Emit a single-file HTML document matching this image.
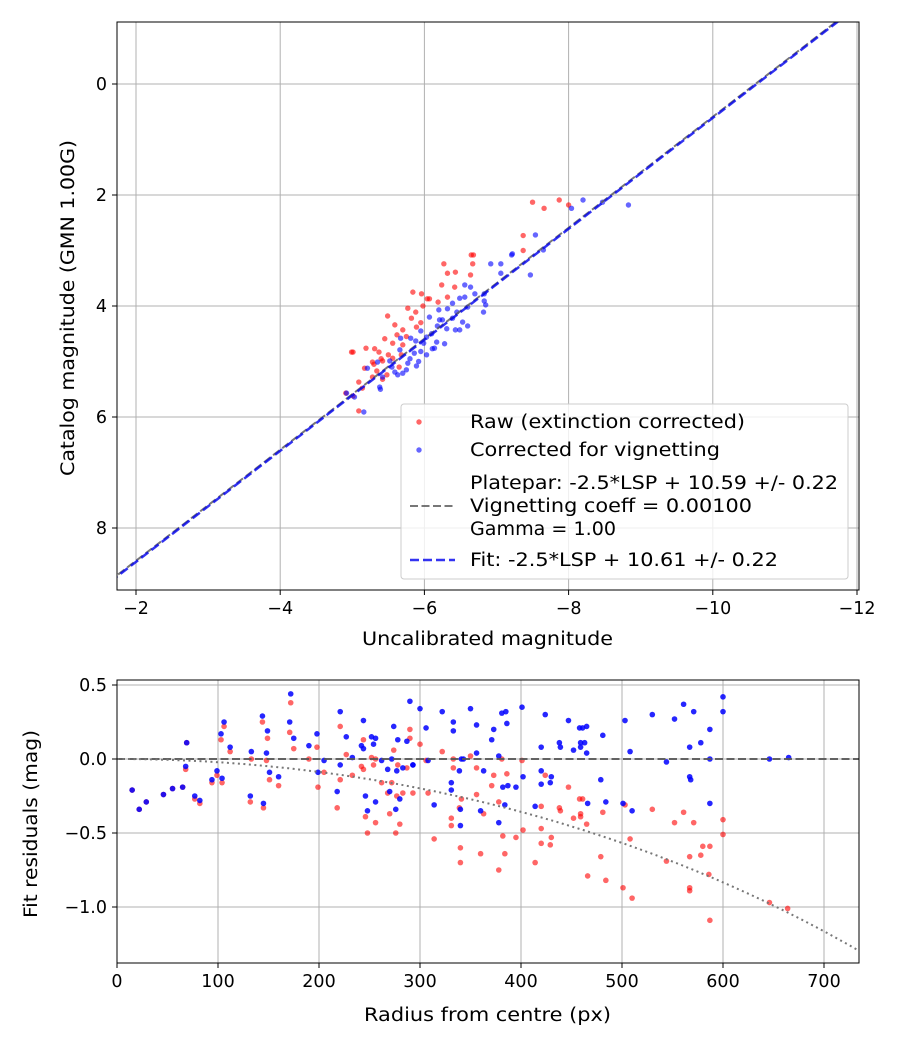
<!DOCTYPE html>
<html><head><meta charset="utf-8"><style>
body{margin:0;background:#fff}
svg text{font-family:"DejaVu Sans","Liberation Sans",sans-serif;fill:#000}
</style></head><body>
<svg id="fig" width="900" height="1050" xmlns="http://www.w3.org/2000/svg">
<rect width="900" height="1050" fill="#fff"/>
<g id="top"></g>
<g id="bot"></g>
</svg>
<script>
// ---- Top chart data ----
const topXTicks=[-2,-4,-6,-8,-10,-12];
const topYTicks=[0,2,4,6,8];
const rawX=[-7.50,-7.66,-7.87,-8.00,-7.37,-7.37,-6.65,-6.68,-6.67,-6.27,-6.32,-6.43,-6.64,-6.24,-6.42,-5.84,-5.96,-6.07,-6.32,-5.77,-5.88,-5.82,-5.49,-5.59,-5.70,-5.89,-5.45,-5.56,-5.70,-5.19,-5.31,-5.01,-5.37,-5.50,-5.68,-5.28,-5.42,-5.56,-5.17,-5.34,-5.48,-5.28,-5.42,-5.09,-5.14,-5.01,-4.91,-5.09,-6.04,-6.19,-5.98,-4.99,-5.62,-5.75,-5.40,-5.65,-5.95,-5.30];
const rawY=[2.13,2.24,2.09,2.18,2.73,3.00,3.08,3.08,3.24,3.24,3.41,3.39,3.44,3.62,3.66,3.75,3.78,3.87,3.84,4.04,4.11,4.22,4.18,4.34,4.43,4.38,4.59,4.67,4.70,4.76,4.77,4.83,4.83,4.88,4.88,5.01,4.99,4.94,5.12,5.17,5.24,5.28,5.32,5.37,5.48,5.62,5.57,5.89,3.87,3.93,4.00,4.83,4.52,4.55,4.95,5.10,4.30,5.05];
const corX=[-8.20,-8.04,-8.47,-8.83,-7.54,-7.65,-7.21,-6.92,-7.06,-7.06,-7.47,-7.22,-6.56,-6.64,-6.70,-6.83,-6.83,-6.85,-6.49,-6.56,-6.39,-6.60,-6.82,-6.20,-6.32,-6.45,-6.07,-6.25,-6.39,-6.53,-6.60,-6.43,-6.49,-6.18,-6.31,-5.95,-5.67,-5.81,-5.88,-5.99,-6.17,-6.28,-6.14,-6.11,-6.03,-5.86,-5.92,-5.77,-5.52,-5.35,-5.59,-5.70,-5.63,-5.89,-5.21,-5.42,-5.38,-5.39,-4.92,-5.03,-5.16,-5.66,-6.03,-6.21,-5.80,-5.95,-6.10,-5.55,-5.75];
const corY=[2.09,2.24,2.13,2.18,2.72,2.99,3.08,3.24,3.24,3.41,3.44,3.06,3.62,3.66,3.78,3.78,3.91,3.98,3.86,3.84,3.95,4.02,4.11,4.07,4.05,4.11,4.20,4.25,4.22,4.29,4.36,4.43,4.43,4.36,4.41,4.45,4.58,4.58,4.63,4.67,4.65,4.68,4.76,4.77,4.88,4.85,5.00,5.03,4.99,5.01,5.19,5.21,5.24,5.08,5.12,5.28,5.46,5.50,5.57,5.64,5.91,4.79,4.56,4.25,4.95,4.82,4.50,5.10,5.15];
const plateparZP=10.59;
const fitZP=10.61;
// ---- Bottom chart data ----
const botXTicks=[0,100,200,300,400,500,600,700];
const botYTicks=[0.5,0.0,-0.5,-1.0];
const resR=[15,22,29,46,55,65,69,68,77,82,94,99,104,103,106,112,132,133,144,145,148,149,151,160,171,172,175,190,198,199,205,221,227,221,218,233,244,242,244,246,248,252,256,254,256,262,268,270,272,274,276,278,277,280,283,287,290,293,300,306,322,333,333,350,356,373,371,381,385,386,401,424,447,458,461,465,481,503,530,552,561,571,587,578,567,508,438,439,420,452,459,463,459,465,356,378,341,343,308,293,339,363,402,420,430,429,420,382,387,395,331,331,479,544,567,568,587,314,340,340,360,378,384,414,466,484,501,510,587,600,600,646,665];
const corRes=[-0.21,-0.34,-0.29,-0.24,-0.20,-0.19,0.11,-0.05,-0.25,-0.28,-0.14,-0.08,-0.13,0.17,0.25,0.08,-0.25,0.05,0.29,-0.30,0.04,0.19,-0.09,-0.12,0.25,0.44,0.14,0.09,0.17,-0.09,-0.01,0.32,0.15,-0.04,-0.22,0.01,0.26,0.09,0.07,-0.25,-0.35,0.15,0.14,0.10,-0.29,-0.01,-0.07,-0.22,0.00,0.22,-0.34,0.13,-0.08,-0.27,-0.06,0.12,0.39,-0.04,0.34,0.21,0.32,0.25,0.19,0.34,0.23,0.20,0.13,0.31,0.32,0.24,0.35,0.30,0.26,0.21,0.21,0.22,0.16,0.26,0.30,0.27,0.37,0.32,0.20,0.11,0.08,0.05,0.11,0.08,0.08,0.06,0.11,0.11,0.08,0.04,0.04,0.02,0.00,0.00,-0.01,-0.04,-0.08,-0.08,-0.12,-0.08,-0.12,-0.16,-0.17,-0.19,-0.18,-0.19,-0.16,-0.21,-0.14,-0.02,-0.12,-0.14,0.00,-0.31,-0.34,-0.45,-0.35,-0.43,-0.31,-0.32,-0.30,-0.29,-0.30,-0.35,-0.30,0.42,0.32,0.00,0.01];
const rawR=[15,22,29,46,55,65,69,68,77,82,94,99,104,103,106,112,132,133,144,145,148,149,151,160,171,172,175,190,198,199,205,221,227,221,218,233,244,242,244,246,248,252,256,254,256,262,268,270,272,274,276,278,277,280,283,287,290,293,290,300,322,350,306,308,333,333,341,339,331,331,314,340,340,356,356,360,363,371,373,378,378,381,386,382,384,395,401,402,414,420,420,420,424,430,429,438,439,447,452,458,461,459,459,465,466,481,479,484,501,503,508,510,530,544,552,561,571,567,567,567,578,587,600,600,586,587,646,664,580];
const rawRes=[-0.21,-0.34,-0.29,-0.24,-0.20,-0.19,0.11,-0.07,-0.27,-0.30,-0.16,-0.11,-0.16,0.13,0.22,0.05,-0.29,0.00,0.25,-0.33,-0.01,0.14,-0.14,-0.18,0.18,0.38,0.07,0.00,0.08,-0.19,-0.09,0.22,0.03,-0.14,-0.33,-0.11,0.13,-0.05,-0.07,-0.39,-0.50,0.01,0.00,-0.04,-0.43,-0.16,-0.23,-0.37,-0.16,0.06,-0.50,-0.04,-0.25,-0.44,-0.23,-0.06,0.20,-0.23,0.14,0.10,0.05,0.02,-0.01,-0.23,0.00,-0.06,-0.27,-0.33,-0.40,-0.45,-0.54,-0.60,-0.70,-0.06,-0.24,-0.64,-0.37,-0.18,-0.11,-0.75,-0.29,0.00,-0.10,-0.52,-0.64,-0.53,-0.01,-0.48,-0.70,-0.32,-0.47,-0.57,-0.11,-0.53,-0.58,-0.33,-0.35,-0.19,-0.40,-0.27,-0.27,-0.37,-0.39,-0.44,-0.79,-0.36,-0.66,-0.82,-0.87,-0.31,-0.54,-0.94,-0.34,-0.69,-0.43,-0.36,-0.43,-0.66,-0.87,-0.89,-0.65,-0.59,-0.41,-0.51,-0.78,-1.09,-0.97,-1.01,-0.59];
const vigCoeff=0.001;

const NS="http://www.w3.org/2000/svg";
function mk(parent,tag,attrs,text){const e=document.createElementNS(NS,tag);for(const k in attrs)e.setAttribute(k,attrs[k]);if(text!==undefined)e.textContent=text;parent.appendChild(e);return e;}
const fmtMinus=s=>String(s).replace('-','\u2212');
const FS=17.5, LFS=18.5;

// ---- Top chart ----
const T={L:117,R:859,Tp:22,B:590};
const tx=v=>136+(-2-v)*(721/10);
const ty=v=>84+v*55.5;
const gt=document.getElementById('top');
let clipT=mk(gt,'clipPath',{id:'ct'});mk(clipT,'rect',{x:T.L,y:T.Tp,width:T.R-T.L,height:T.B-T.Tp});
topXTicks.forEach(v=>{const x=tx(v);
 let l=mk(gt,'line',{x1:x,x2:x,y1:T.Tp,y2:T.B,stroke:'#b0b0b0','stroke-width':1});
 
 mk(gt,'line',{x1:x,x2:x,y1:T.B,y2:T.B+5,stroke:'#000'});
 let t=mk(gt,'text',{x:x,y:T.B+24,'font-size':FS,'text-anchor':'middle'},fmtMinus(v));
 });
topYTicks.forEach(v=>{const y=ty(v);
 let l=mk(gt,'line',{x1:T.L,x2:T.R,y1:y,y2:y,stroke:'#b0b0b0','stroke-width':1});
 
 mk(gt,'line',{x1:T.L-5,x2:T.L,y1:y,y2:y,stroke:'#000'});
 let t=mk(gt,'text',{x:T.L-10,y:y+6,'font-size':FS,'text-anchor':'end'},v);
 });
const gpts=mk(gt,'g',{'clip-path':'url(#ct)'});
rawX.forEach((v,i)=>{let c=mk(gpts,'circle',{cx:tx(v),cy:ty(rawY[i]),r:2.7,fill:'#ff0000','fill-opacity':0.6});
 });
corX.forEach((v,i)=>{let c=mk(gpts,'circle',{cx:tx(v),cy:ty(corY[i]),r:2.7,fill:'#0000ff','fill-opacity':0.6});
 });
const x0=-1.5,x1=-12.5;
let pl=mk(gpts,'line',{x1:tx(x0),y1:ty(x0+plateparZP),x2:tx(x1),y2:ty(x1+plateparZP),stroke:'#555','stroke-opacity':0.8,'stroke-width':2,'stroke-dasharray':'8,3.5'});

let fl=mk(gpts,'line',{x1:tx(x0),y1:ty(x0+fitZP),x2:tx(x1),y2:ty(x1+fitZP),stroke:'#0000ee','stroke-opacity':0.8,'stroke-width':2.5,'stroke-dasharray':'9,4'});

let ft=mk(gt,'rect',{x:T.L,y:T.Tp,width:T.R-T.L,height:T.B-T.Tp,fill:'none',stroke:'#000','stroke-width':1});

let xt=mk(gt,'text',{x:362,y:645,'font-size':LFS,textLength:251,lengthAdjust:'spacingAndGlyphs'},'Uncalibrated magnitude');

let yt=mk(gt,'text',{x:-476,y:74,'font-size':LFS,textLength:336,lengthAdjust:'spacingAndGlyphs',transform:'rotate(-90)'},'Catalog magnitude (GMN 1.00G)');

// legend
const lg=mk(gt,'g',{});
mk(lg,'rect',{x:401,y:404,width:447,height:175,rx:3,fill:'#fff','fill-opacity':0.8,stroke:'#ccc'});
function lt(y,len,s){const e=mk(lg,'text',{x:470,y:y,'font-size':LFS,textLength:len,lengthAdjust:'spacingAndGlyphs'},s);}
mk(lg,'circle',{cx:419,cy:422,r:2.7,fill:'#ff0000','fill-opacity':0.6});
lt(428,275,'Raw (extinction corrected)');
mk(lg,'circle',{cx:419,cy:450,r:2.7,fill:'#0000ff','fill-opacity':0.6});
lt(456,250,'Corrected for vignetting');
mk(lg,'line',{x1:410,x2:455,y1:506,y2:506,stroke:'#555','stroke-opacity':0.8,'stroke-width':2,'stroke-dasharray':'8,3.5'});
lt(489,368,'Platepar: -2.5*LSP + 10.59 +/- 0.22');
lt(512,282,'Vignetting coeff = 0.00100');
lt(535,146,'Gamma = 1.00');
mk(lg,'line',{x1:410,x2:455,y1:560,y2:560,stroke:'#0000ee','stroke-opacity':0.8,'stroke-width':2.5,'stroke-dasharray':'9,4'});
lt(566,308,'Fit: -2.5*LSP + 10.61 +/- 0.22');

// ---- Bottom chart ----
const Bm={L:117,R:859,Tp:680,B:963};
const bx=v=>117+v*1.01;
const by=v=>759-v*148;
const gb=document.getElementById('bot');
let clipB=mk(gb,'clipPath',{id:'cb'});mk(clipB,'rect',{x:Bm.L,y:Bm.Tp,width:Bm.R-Bm.L,height:Bm.B-Bm.Tp});
botXTicks.forEach(v=>{const x=bx(v);
 let l=mk(gb,'line',{x1:x,x2:x,y1:Bm.Tp,y2:Bm.B,stroke:'#b0b0b0','stroke-width':1});
 
 mk(gb,'line',{x1:x,x2:x,y1:Bm.B,y2:Bm.B+5,stroke:'#000'});
 let t=mk(gb,'text',{x:x,y:Bm.B+24,'font-size':FS,'text-anchor':'middle'},v);
 });
botYTicks.forEach(v=>{const y=by(v);
 let l=mk(gb,'line',{x1:Bm.L,x2:Bm.R,y1:y,y2:y,stroke:'#b0b0b0','stroke-width':1});
 
 mk(gb,'line',{x1:Bm.L-5,x2:Bm.L,y1:y,y2:y,stroke:'#000'});
 let t=mk(gb,'text',{x:Bm.L-10,y:y+6,'font-size':FS,'text-anchor':'end'},fmtMinus(v.toFixed(1)));
 });
const gbp=mk(gb,'g',{'clip-path':'url(#cb)'});
rawR.forEach((r,i)=>{let c=mk(gbp,'circle',{cx:bx(r),cy:by(rawRes[i]),r:2.8,fill:'#ff0000','fill-opacity':0.6});
 });
resR.forEach((r,i)=>{let c=mk(gbp,'circle',{cx:bx(r),cy:by(corRes[i]),r:2.8,fill:'#0000ff','fill-opacity':0.85});
 });
let zl=mk(gbp,'line',{x1:Bm.L,x2:Bm.R,y1:by(0),y2:by(0),stroke:'#555','stroke-opacity':0.9,'stroke-width':2,'stroke-dasharray':'8,3.5'});

let d='';for(let r=0;r<=740;r+=5){const c=Math.cos(vigCoeff*r);const v=2.5*Math.log10(c*c*c*c);d+=(r?'L':'M')+bx(r).toFixed(1)+','+by(v).toFixed(1);}
let vc=mk(gbp,'path',{d:d,fill:'none',stroke:'#777','stroke-width':2,'stroke-dasharray':'2,3.5'});

let fb=mk(gb,'rect',{x:Bm.L,y:Bm.Tp,width:Bm.R-Bm.L,height:Bm.B-Bm.Tp,fill:'none',stroke:'#000','stroke-width':1});

let bxt=mk(gb,'text',{x:364,y:1021,'font-size':LFS,textLength:247,lengthAdjust:'spacingAndGlyphs'},'Radius from centre (px)');

let byt=mk(gb,'text',{x:-918,y:37,'font-size':LFS,textLength:188,lengthAdjust:'spacingAndGlyphs',transform:'rotate(-90)'},'Fit residuals (mag)');

</script>
</body></html>
